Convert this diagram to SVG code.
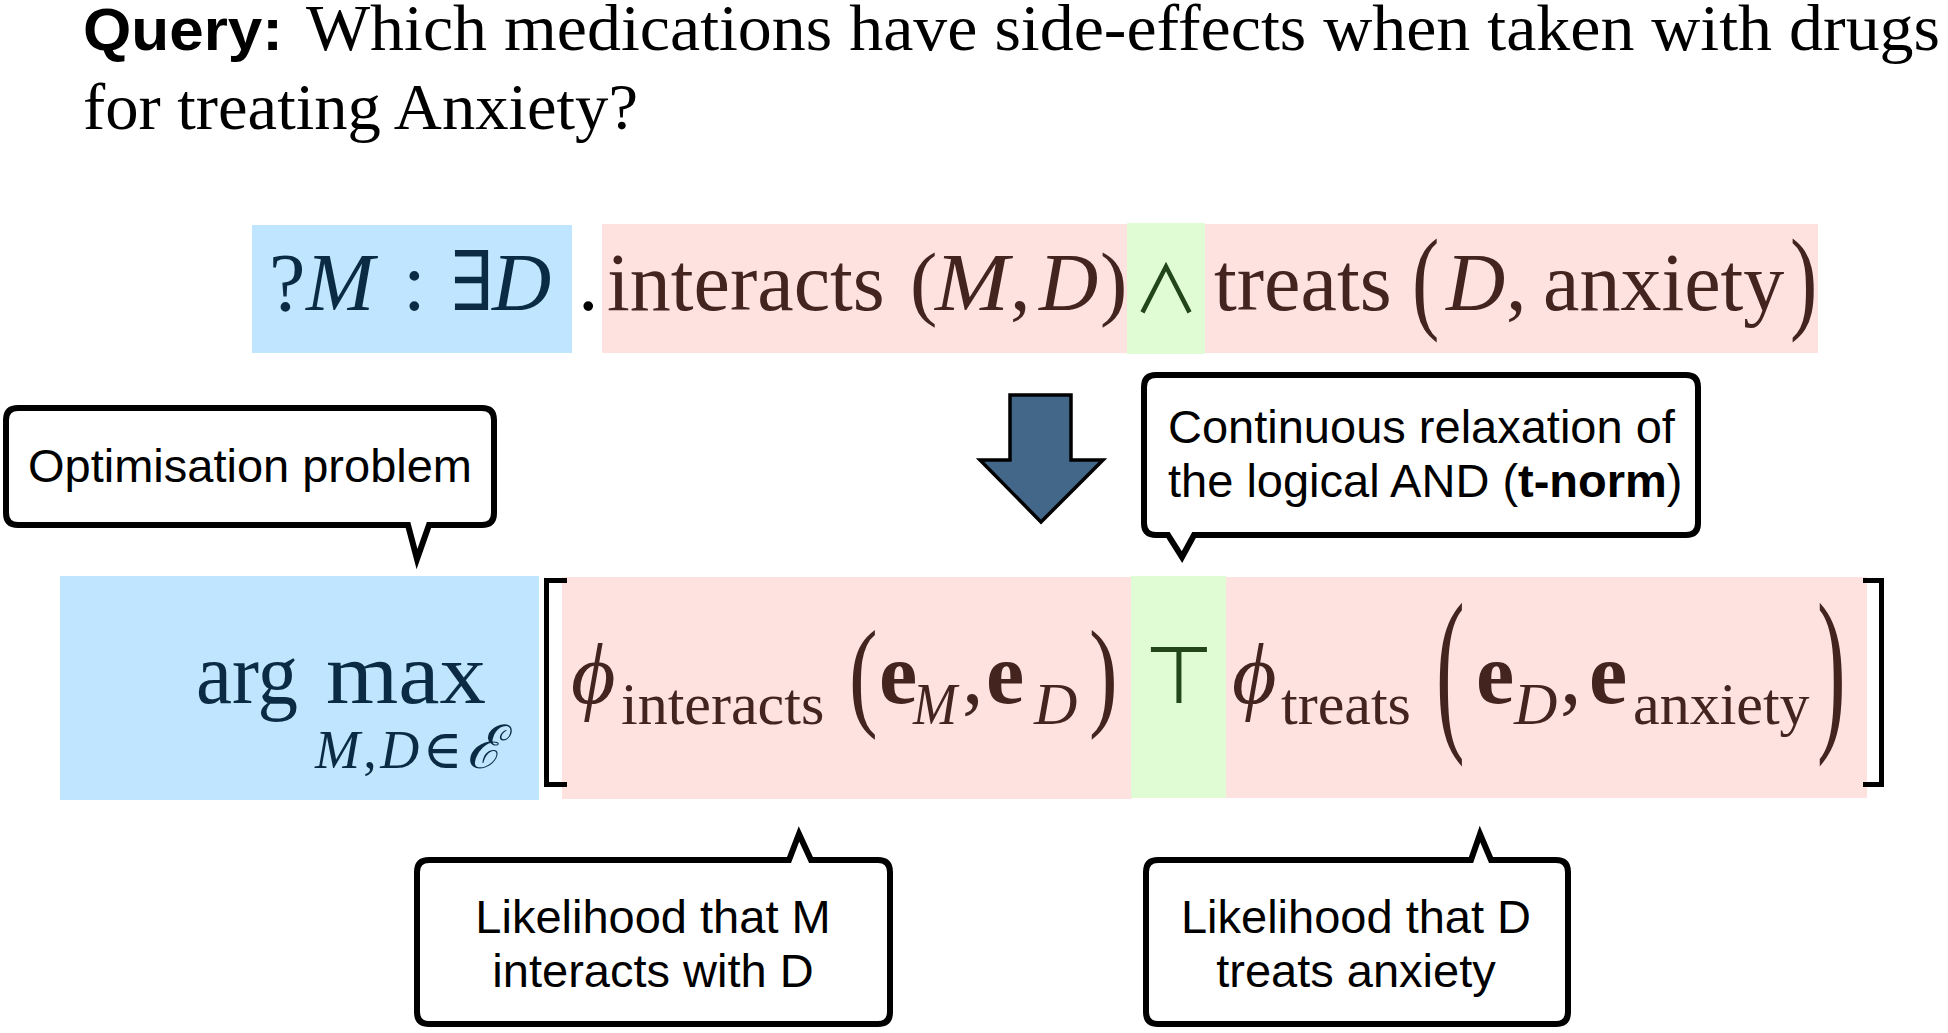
<svg xmlns="http://www.w3.org/2000/svg" width="1948" height="1033" viewBox="0 0 1948 1033">
<style>
.sf{font-family:"Liberation Serif","DejaVu Serif",serif}
.ss{font-family:"Liberation Sans",Arial,sans-serif}
.f1{font-size:82px}
.f2{font-size:86px}
.sub{font-size:60px}
.it{font-style:italic}
.bd{font-weight:bold}
.cb{fill:#0b2b45}
.cp{fill:#43241f}
.cg{fill:#22461a}
.bxb{fill:#bfe6fe}
.bxp{fill:#fee2e0}
.bxg{fill:#dffcd4}
.call{fill:#fff;stroke:#000;stroke-width:6;stroke-linejoin:miter;stroke-miterlimit:10}
.ct{font-family:"Liberation Sans",Arial,sans-serif;font-size:47px;fill:#000}
.brk{fill:none;stroke:#000;stroke-width:5}
</style>

<g id="query">
<text x="83" y="50" class="ss bd" font-size="60" textLength="200" lengthAdjust="spacingAndGlyphs">Query:</text>
<text x="306" y="50" class="sf" font-size="66" textLength="1634" lengthAdjust="spacingAndGlyphs">Which medications have side-effects when taken with drugs</text>
<text x="83" y="129" class="sf" font-size="66" textLength="555" lengthAdjust="spacingAndGlyphs">for treating Anxiety?</text>
</g>

<g id="logic-formula">
<rect class="bxb" x="252" y="225" width="320" height="128"/>
<rect class="bxp" x="602" y="224" width="526" height="129"/>
<rect class="bxg" x="1127" y="223" width="78" height="131"/>
<rect class="bxp" x="1205" y="224" width="613" height="129"/>
<text class="sf f1 cb" x="269" y="310">?</text>
<text class="sf f1 cb it" x="306" y="310">M</text>
<text class="sf f1 cb" x="403" y="310">:</text>
<text class="sf f1 cb" x="450" y="310">∃</text>
<text class="sf f1 cb it" x="492" y="310">D</text>
<text class="sf f1" x="578" y="310" fill="#000">.</text>
<text class="sf f1 cp" x="607" y="310">interacts</text>
<text class="sf f1 cp" x="910" y="310">(</text>
<text class="sf f1 cp it" x="935" y="310" textLength="74" lengthAdjust="spacingAndGlyphs">M</text>
<text class="sf f1 cp" x="1010" y="310">,</text>
<text class="sf f1 cp it" x="1039" y="310">D</text>
<text class="sf f1 cp" x="1100" y="310">)</text>
<text class="cg" font-family="Noto Sans CJK JP,DejaVu Sans,sans-serif" font-size="66" x="1133" y="313">∧</text>
<text class="sf f1 cp" x="1214" y="310">treats</text>
<text class="sf f1 cp" transform="translate(1412,317.6) scale(1,1.4)">(</text>
<text class="sf f1 cp it" x="1446" y="310">D</text>
<text class="sf f1 cp" x="1506" y="310">,</text>
<text class="sf f1 cp" x="1543" y="310">anxiety</text>
<text class="sf f1 cp" transform="translate(1790,317.6) scale(1,1.4)">)</text>
</g>

<g id="arrow">
<path d="M1010,395 H1071 V460 H1103 L1041,522 L980,460 H1010 Z" fill="#436789" stroke="#000" stroke-width="3.5" stroke-linejoin="miter"/>
</g>

<g id="relaxed-formula">
<rect class="bxb" x="60" y="576" width="479" height="224"/>
<rect class="bxp" x="562" y="577" width="570" height="222"/>
<rect class="bxg" x="1131" y="576" width="95" height="222"/>
<rect class="bxp" x="1226" y="577" width="641" height="221"/>
<path class="brk" d="M567,580.5 H546.5 V784.5 H567"/>
<path class="brk" d="M1863,580.5 H1881.5 V784.5 H1863"/>
<text class="sf f2 cb" x="196" y="703" textLength="102" lengthAdjust="spacingAndGlyphs">arg</text>
<text class="sf f2 cb" x="326" y="703" textLength="160" lengthAdjust="spacingAndGlyphs">max</text>
<text class="sf cb" font-size="54" x="315" y="768" textLength="187"><tspan font-style="italic">M</tspan>,<tspan font-style="italic">D</tspan>∈<tspan font-style="italic" font-size="60">ℰ</tspan></text>
<text class="sf f2 cp it" x="571" y="703">ϕ</text>
<text class="sf sub cp" x="621" y="724">interacts</text>
<text class="sf f2 cp" transform="translate(849,713.6) scale(1,1.4)">(</text>
<text class="sf f2 cp bd" x="879" y="703">e</text>
<text class="sf sub cp it" x="913" y="724" textLength="44" lengthAdjust="spacingAndGlyphs">M</text>
<text class="sf f2 cp" x="962" y="703">,</text>
<text class="sf f2 cp bd" x="986" y="703">e</text>
<text class="sf sub cp it" x="1034" y="724">D</text>
<text class="sf f2 cp" transform="translate(1089,713.6) scale(1,1.4)">)</text>
<text class="cg" font-family="DejaVu Sans,sans-serif" font-size="80" x="1144" y="703">⊤</text>
<text class="sf f2 cp it" x="1232" y="703">ϕ</text>
<text class="sf sub cp" x="1281" y="724">treats</text>
<text class="sf f2 cp" transform="translate(1436,728) scale(1,2.1)">(</text>
<text class="sf f2 cp bd" x="1476" y="703">e</text>
<text class="sf sub cp it" x="1514" y="724">D</text>
<text class="sf f2 cp" x="1560" y="703">,</text>
<text class="sf f2 cp bd" x="1589" y="703">e</text>
<text class="sf sub cp" x="1633" y="724">anxiety</text>
<text class="sf f2 cp" transform="translate(1817,728) scale(1,2.1)">)</text>
</g>

<g id="callout-optimisation">
<path class="call" d="M18,408 H482 Q494,408 494,420 V513 Q494,525 482,525 H429 L417,559 L408,525 H18 Q6,525 6,513 V420 Q6,408 18,408 Z"/>
<text class="ct" x="250" y="482" text-anchor="middle">Optimisation problem</text>
</g>

<g id="callout-tnorm">
<path class="call" d="M1156,375 H1686 Q1698,375 1698,387 V523 Q1698,535 1686,535 H1194 L1182,557 L1168,535 H1156 Q1144,535 1144,523 V387 Q1144,375 1156,375 Z"/>
<text class="ct" x="1168" y="443">Continuous relaxation of</text>
<text class="ct" x="1168" y="497">the logical AND (<tspan font-weight="bold">t-norm</tspan>)</text>
</g>

<g id="callout-interacts">
<path class="call" d="M429,860 H789 L799,834 L811,860 H878 Q890,860 890,872 V1012 Q890,1024 878,1024 H429 Q417,1024 417,1012 V872 Q417,860 429,860 Z"/>
<text class="ct" x="653" y="933" text-anchor="middle">Likelihood that M</text>
<text class="ct" x="653" y="987" text-anchor="middle">interacts with D</text>
</g>

<g id="callout-treats">
<path class="call" d="M1158,860 H1471 L1480,834 L1491,860 H1556 Q1568,860 1568,872 V1012 Q1568,1024 1556,1024 H1158 Q1146,1024 1146,1012 V872 Q1146,860 1158,860 Z"/>
<text class="ct" x="1356" y="933" text-anchor="middle">Likelihood that D</text>
<text class="ct" x="1356" y="987" text-anchor="middle">treats anxiety</text>
</g>

<g id="connectors"></g>
</svg>
